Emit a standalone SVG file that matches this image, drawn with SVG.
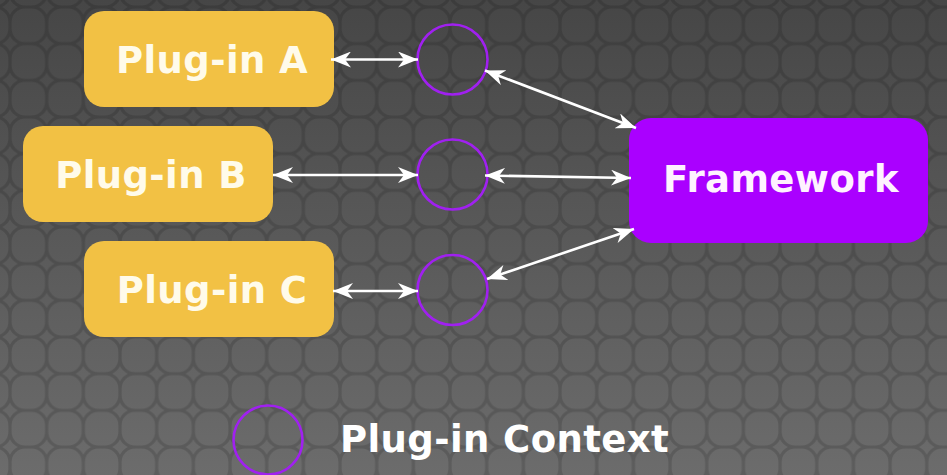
<svg xmlns="http://www.w3.org/2000/svg" width="947" height="475" viewBox="0 0 947 475">
  <defs>
    <linearGradient id="bg" x1="0" y1="0" x2="0" y2="1">
      <stop offset="0" stop-color="#464646"/>
      <stop offset="1" stop-color="#6c6c6c"/>
    </linearGradient>
    <pattern id="tiles" patternUnits="userSpaceOnUse" x="10" y="7" width="36.67" height="36.67">
      <rect x="0" y="0" width="36.67" height="36.67" rx="15" ry="15" fill="none" stroke="#000" stroke-opacity="0.14" stroke-width="3.2"/>
    </pattern>
    <marker id="ah" viewBox="0 0 20 16" refX="20" refY="8" markerWidth="20" markerHeight="16" markerUnits="userSpaceOnUse" orient="auto-start-reverse">
      <path d="M0,0 L20,8 L0,16 L6,8 Z" fill="#ffffff"/>
    </marker>
    <style>
      .plug rect { fill: #f2c144; }
      .lbl { font-family: "DejaVu Sans", "Liberation Sans", sans-serif; font-weight: bold; font-size: 37px; letter-spacing: 0.4px; }
      .plug text { fill: #fffbea; }
      .ctx { fill: none; stroke: #a020f0; stroke-width: 2.6; }
      .conn line { stroke: #ffffff; stroke-width: 2.6; marker-start: url(#ah); marker-end: url(#ah); }
    </style>
  </defs>

  <rect x="0" y="0" width="947" height="475" fill="url(#bg)"/>
  <rect x="0" y="0" width="947" height="475" fill="url(#tiles)"/>

  <g id="plugin-a" class="plug">
    <rect x="84" y="11" width="250" height="96" rx="20" ry="20"/>
    <text class="lbl" x="212" y="73" text-anchor="middle">Plug-in A</text>
  </g>
  <g id="plugin-b" class="plug">
    <rect x="23" y="126" width="250" height="96" rx="20" ry="20"/>
    <text class="lbl" x="151" y="188" text-anchor="middle">Plug-in B</text>
  </g>
  <g id="plugin-c" class="plug">
    <rect x="84" y="241" width="250" height="96" rx="20" ry="20"/>
    <text class="lbl" x="212" y="303" text-anchor="middle">Plug-in C</text>
  </g>

  <g id="framework">
    <rect x="629" y="118" width="299" height="125" rx="22" ry="22" fill="#aa00ff"/>
    <text class="lbl" x="781" y="192" text-anchor="middle" fill="#fff2ff">Framework</text>
  </g>

  <g id="context-a"><circle class="ctx" cx="452.5" cy="59.5" r="35"/></g>
  <g id="context-b"><circle class="ctx" cx="452.5" cy="174.5" r="35"/></g>
  <g id="context-c"><circle class="ctx" cx="452.5" cy="290" r="35"/></g>

  <g id="connectors" class="conn">
    <line x1="331" y1="59.5" x2="418" y2="59.5"/>
    <line x1="485" y1="70.5" x2="636" y2="128"/>
    <line x1="273" y1="175" x2="418" y2="175"/>
    <line x1="485" y1="175.5" x2="631" y2="178"/>
    <line x1="333" y1="291" x2="418" y2="291"/>
    <line x1="487" y1="279" x2="634" y2="229"/>
  </g>

  <g id="legend">
    <circle class="ctx" cx="268" cy="440" r="34.5"/>
    <text class="lbl" x="340" y="452" fill="#ffffff">Plug-in Context</text>
  </g>
</svg>
